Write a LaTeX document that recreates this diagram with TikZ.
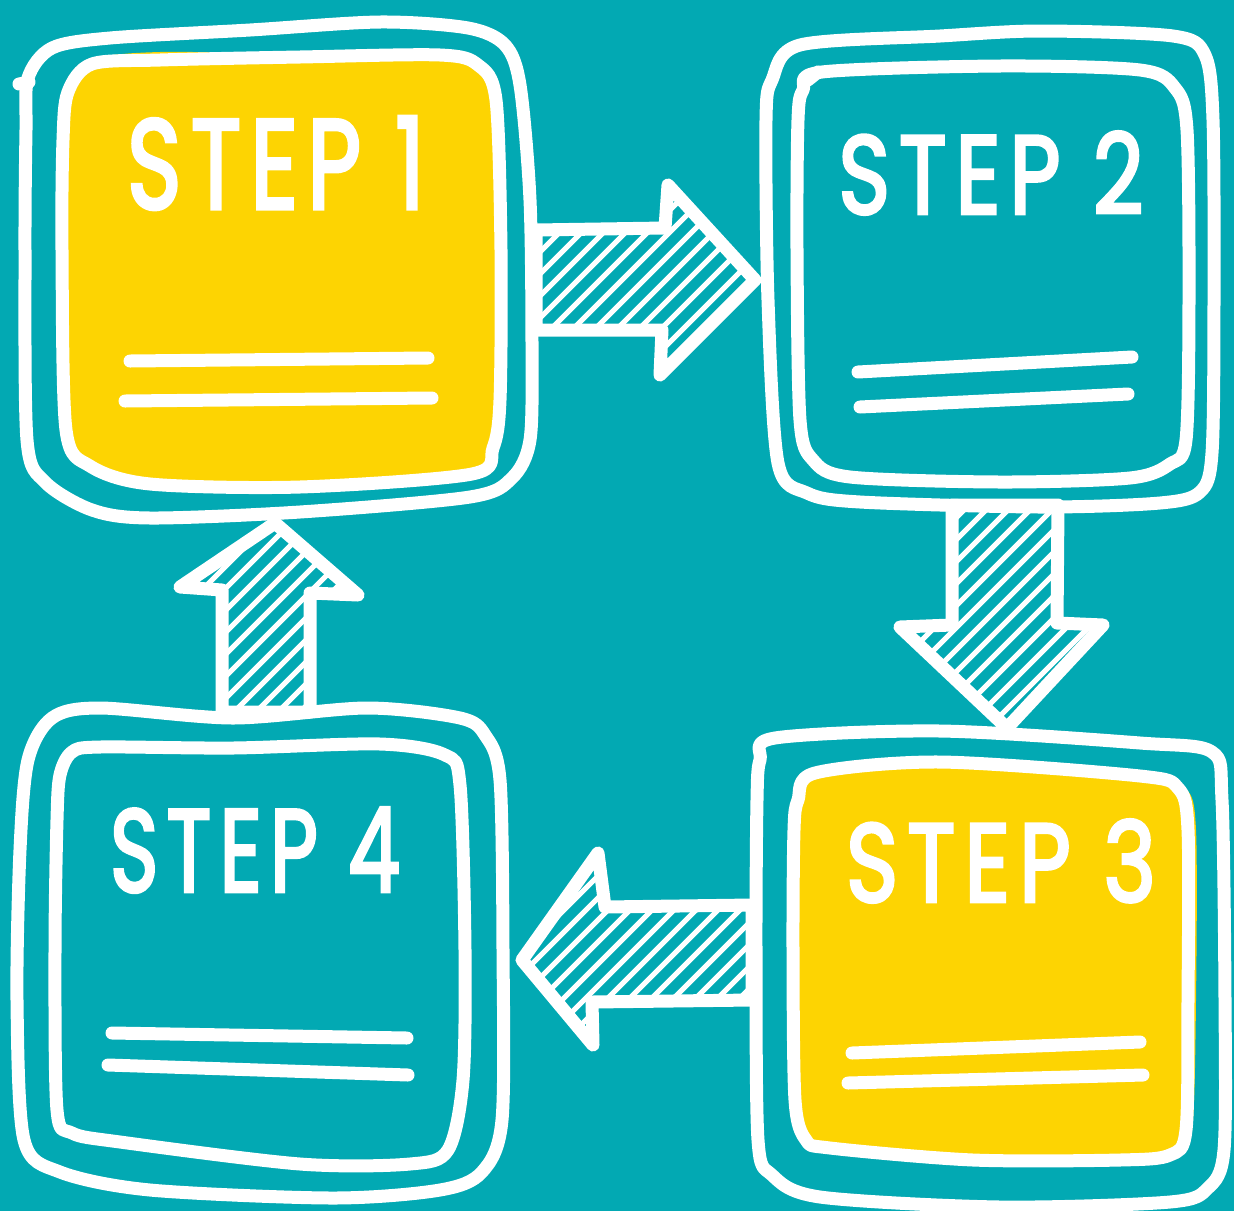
\documentclass[tikz,border=0pt]{standalone}
\usepackage{fontspec}
\setmainfont{Poppins}
\usetikzlibrary{calc}
\definecolor{bgteal}{HTML}{02A9B3}
\definecolor{sunyellow}{HTML}{FDD402}
\tikzset{
  outline/.style={draw=white, line width=13pt, line cap=round, line join=round},
  hatchline/.style={draw=white, line width=5pt},
  textline/.style={draw=white, line width=13pt, line cap=round},
  steptext/.style={text=white, inner sep=0pt, font=\addfontfeatures{FakeBold=3,LetterSpace=10}},
  boxcurve/.style={smooth cycle, tension=0.5},
}
\newcommand\hatcharrow[1]{%
  \fill[bgteal] #1;
  \begin{scope}
    \clip #1;
    \foreach \hc in {660,682,...,1900} \draw[hatchline] (\hc,0) -- ++(-1211,1211);
  \end{scope}
  \draw[outline] #1;
}
\begin{document}
\begin{tikzpicture}[x=1pt,y=-1pt]
\useasboundingbox (0,0) rectangle (1234,1211);
\fill[bgteal] (0,0) rectangle (1234,1211);

% yellow fills
\fill[sunyellow] plot[boxcurve] coordinates {(68,92) (92,60) (160,52) (300,54) (440,53) (478,63) (496,100) (501,250) (500,400) (493,448) (472,474) (300,487) (150,484) (90,466) (66,430) (62,250) (63,140)};
\fill[sunyellow] plot[boxcurve] coordinates {(798,800) (815,773) (940,766) (1140,776) (1185,788) (1196,830) (1196,1000) (1192,1130) (1175,1158) (1120,1162) (973,1162) (830,1150) (806,1140) (795,1100) (793,950) (794,830)};

% connectors (hatched block arrows)
\hatcharrow{(536,230) -- (665,228) -- (668,185) -- (755,280) -- (660,375) -- (662,330) -- (536,330) -- cycle}
\hatcharrow{(952,505) -- (1058,505) -- (1057,623) -- (1103,625) -- (1007,728) -- (900,627) -- (952,625) -- cycle}
\hatcharrow{(752,905) -- (605,907) -- (598,853) -- (522,960) -- (593,1045) -- (592,1002) -- (752,1000) -- cycle}
\hatcharrow{(222,712) -- (222,590) -- (180,587) -- (275,523) -- (358,595) -- (310,593) -- (310,712) -- cycle}

% box 1
\draw[outline] plot[boxcurve] coordinates {(28,78) (52,48) (110,38) (250,30) (380,22) (468,28) (505,45) (520,85) (530,200) (532,350) (530,440) (512,478) (470,497) (300,512) (150,518) (92,510) (45,482) (27,440) (25,250) (26,130)};
\draw[outline] (19,84) -- (29,82);
\draw[outline] plot[boxcurve] coordinates {(68,92) (92,64) (160,60) (300,57) (440,55) (478,65) (496,100) (501,250) (500,400) (493,448) (472,474) (300,487) (150,484) (90,466) (66,430) (62,250) (63,140)};

% box 2
\draw[outline] plot[boxcurve] coordinates {(772,80) (800,45) (940,36) (1040,31) (1173,36) (1205,55) (1213,120) (1214,300) (1212,453) (1200,492) (1160,503) (1040,507) (860,502) (807,493) (778,463) (768,300) (766,120)};
\draw[outline] plot[boxcurve] coordinates {(803,90) (822,72) (1000,66) (1140,70) (1175,88) (1187,130) (1189,300) (1186,440) (1170,464) (1130,478) (1000,482) (850,477) (813,460) (800,420) (797,250) (798,120)};
\draw[outline] (808,80) -- (818,72);

% box 3
\draw[outline] plot[boxcurve] coordinates {(760,760) (775,738) (940,731) (1140,743) (1212,752) (1222,800) (1225,1000) (1224,1150) (1208,1188) (1170,1202) (1000,1207) (820,1197) (772,1175) (758,1140) (756,950) (757,800)};
\draw[outline] plot[boxcurve] coordinates {(798,800) (815,773) (940,762) (1140,776) (1178,788) (1188,830) (1188,1000) (1186,1130) (1170,1155) (1120,1160) (973,1160) (830,1148) (806,1140) (795,1100) (793,950) (794,830)};

% box 4
\draw[outline] plot[boxcurve] coordinates {(28,760) (52,718) (100,708) (233,718) (367,708) (460,718) (485,735) (500,780) (503,950) (502,1120) (482,1172) (440,1190) (333,1198) (150,1190) (60,1172) (24,1140) (17,1000) (20,850)};
\draw[outline] plot[boxcurve] coordinates {(60,775) (72,752) (100,747) (233,748) (380,744) (445,755) (460,785) (465,950) (463,1080) (448,1150) (410,1164) (300,1164) (120,1142) (72,1133) (57,1110) (55,950) (57,820)};

% titles
\node[steptext] (s1) at (276,163) {\resizebox{298pt}{92pt}{STEP 1}};
\node[steptext] (s2) at (991,173) {\resizebox{305pt}{82pt}{STEP 2}};
\node[steptext] (s3) at (1001,861) {\resizebox{310pt}{82pt}{STEP 3}};
\node[steptext] (s4) at (255,850) {\resizebox{290pt}{84pt}{STEP 4}};

% text lines
\draw[textline] (130,361) -- (428,358);
\draw[textline] (125,401) -- (432,398);
\draw[textline] (858,372) -- (1132,357);
\draw[textline] (860,407) -- (1128,394);
\draw[textline] (852,1053) -- (1140,1042);
\draw[textline] (848,1083) -- (1143,1075);
\draw[textline] (112,1033) -- (407,1038);
\draw[textline] (108,1065) -- (408,1075);
\end{tikzpicture}
\end{document}
